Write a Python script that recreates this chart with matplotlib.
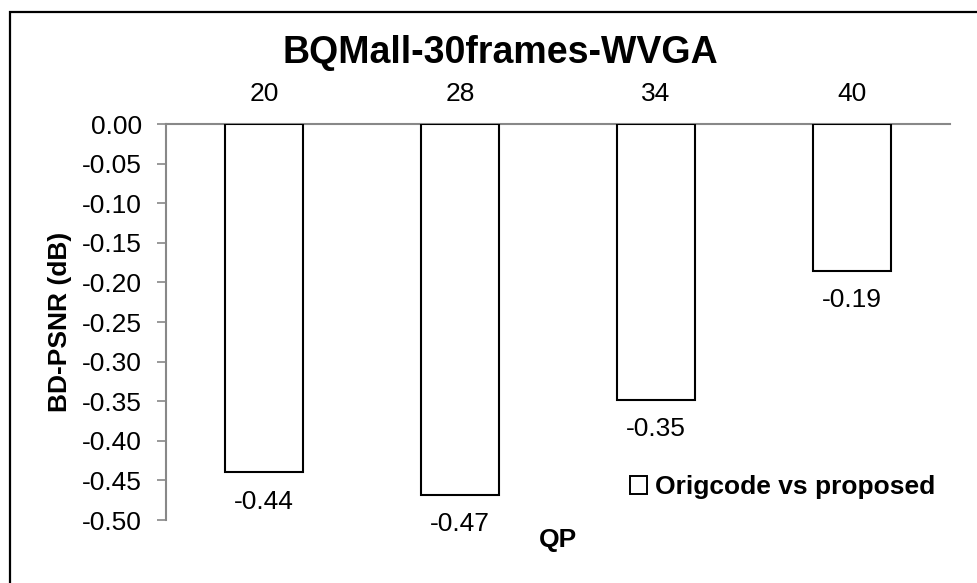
import matplotlib
matplotlib.use("Agg")
import matplotlib.pyplot as plt
from matplotlib.patches import Rectangle

# QP settings and BD-PSNR deltas (dB)
qp_labels = ["20", "28", "34", "40"]
bd_psnr = [-0.44, -0.468, -0.348, -0.186]
series_name = "Origcode vs proposed"
y_ticks = [0.00, -0.05, -0.10, -0.15, -0.20, -0.25, -0.30, -0.35, -0.40, -0.45, -0.50]

plt.rcParams["font.family"] = ["Liberation Sans", "DejaVu Sans"]

W, H = 977, 583
fs = 19
fig = plt.figure(figsize=(W / 100, H / 100), dpi=100)
fig.patch.set_facecolor("white")

# chart area border (runs off the right/bottom edge)
fig.patches.append(Rectangle((10 / W, -0.05), 1.2, 1 - 12 / H + 0.05,
                             transform=fig.transFigure, fill=False,
                             edgecolor="black", linewidth=1.6))

left, right, top, bottom = 166, 950, 124, 520
ax = fig.add_axes([left / W, 1 - bottom / H, (right - left) / W, (bottom - top) / H])

grey = "#888888"
x = list(range(len(qp_labels)))
bars = ax.bar(x, bd_psnr, width=0.4, color="white", edgecolor="black",
              linewidth=1.5, label=series_name, zorder=3)

for xi, v in zip(x, bd_psnr):
    ax.annotate(f"{v:.2f}", (xi, v), xytext=(0, -21), textcoords="offset points",
                ha="center", va="center", fontsize=fs)

ax.set_xlim(-0.5, len(qp_labels) - 0.5)
ax.set_ylim(-0.5, 0)
ax.set_yticks(y_ticks)
ax.set_yticklabels([f"{t:.2f}" for t in y_ticks])
ax.set_xticks(x)
ax.set_xticklabels(qp_labels)

ax.xaxis.tick_top()
ax.tick_params(axis="x", length=0, pad=13, labelsize=fs)
ax.tick_params(axis="y", length=6.5, width=1.2, color=grey, pad=11, labelsize=fs)

for side in ("right", "bottom"):
    ax.spines[side].set_visible(False)
for side in ("left", "top"):
    ax.spines[side].set_color(grey)
    ax.spines[side].set_linewidth(1.5)

ax.set_ylabel("BD-PSNR (dB)", fontsize=fs, fontweight="bold")
ax.yaxis.set_label_coords((72 - left) / (right - left), 0.5)

fig.text(558 / W, 1 - 540 / H, "QP", ha="center", va="center",
         fontsize=fs, fontweight="bold")
fig.text(500 / W, 1 - 53 / H, "BQMall-30frames-WVGA", ha="center", va="center",
         fontsize=27, fontweight="bold")

leg = ax.legend(loc="center left", bbox_to_anchor=(630 / W, 1 - 487 / H),
                bbox_transform=fig.transFigure, frameon=False,
                borderaxespad=0, borderpad=0,
                prop={"size": fs, "weight": "bold"},
                handlelength=0.65, handleheight=0.65, handletextpad=0.3)
for h in leg.legend_handles:
    h.set_linewidth(1.4)

fig.savefig("out.png", dpi=100)
